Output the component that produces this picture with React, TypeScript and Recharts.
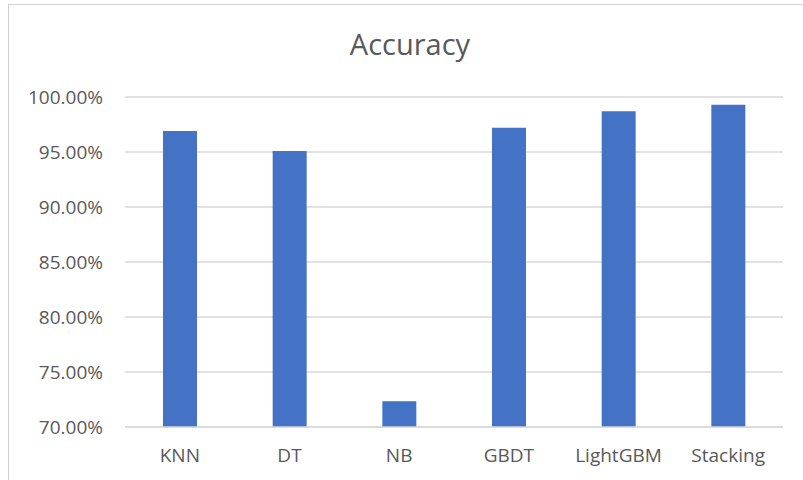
import { BarChart, Bar, XAxis, YAxis, CartesianGrid } from 'recharts';

const models = ['KNN', 'DT', 'NB', 'GBDT', 'LightGBM', 'Stacking'];
const accuracy = [96.9, 95.1, 72.35, 97.2, 98.7, 99.3];
const yTicks = [70, 75, 80, 85, 90, 95, 100];

const data = models.map((name, i) => ({ name, accuracy: accuracy[i] }));

const FONT = '"Open Sans", sans-serif';
const TEXT = '#595959';
const GRID = '#d9d9d9';

export default function App() {
  return (
    <div
      style={{
        position: 'absolute',
        left: 0,
        top: 0,
        width: 803,
        height: 480,
        background: '#fff',
        overflow: 'hidden',
        fontFamily: FONT,
      }}
    >
      {/* chart frame, runs off the right and bottom edge */}
      <div
        style={{
          position: 'absolute',
          left: 8,
          top: 4,
          width: 820,
          height: 500,
          border: '1px solid #d0d0d0',
        }}
      />
      <div
        style={{
          position: 'absolute',
          left: 0,
          top: 24,
          width: 820,
          textAlign: 'center',
          fontSize: 29,
          color: TEXT,
          lineHeight: '40px',
        }}
      >
        Accuracy
      </div>
      <div style={{ position: 'absolute', left: 0, top: 0 }}>
        <BarChart
          width={803}
          height={480}
          data={data}
          margin={{ top: 97, right: 20, left: 0, bottom: 13 }}
        >
          <CartesianGrid vertical={false} stroke={GRID} strokeWidth={1.5} />
          <XAxis
            dataKey="name"
            height={40}
            tickLine={false}
            axisLine={{ stroke: GRID, strokeWidth: 1.5 }}
            tickMargin={16}
            tick={{ fontSize: 19, fill: TEXT, fontFamily: FONT }}
            interval={0}
          />
          <YAxis
            width={125}
            domain={[70, 100]}
            ticks={yTicks}
            allowDataOverflow
            axisLine={false}
            tickLine={false}
            tickMargin={16}
            tickFormatter={(v: number) => `${v.toFixed(2)}%`}
            tick={{ fontSize: 19, fill: TEXT, fontFamily: FONT }}
          />
          <Bar dataKey="accuracy" fill="#4472c4" barSize={34} isAnimationActive={false} />
        </BarChart>
      </div>
    </div>
  );
}
